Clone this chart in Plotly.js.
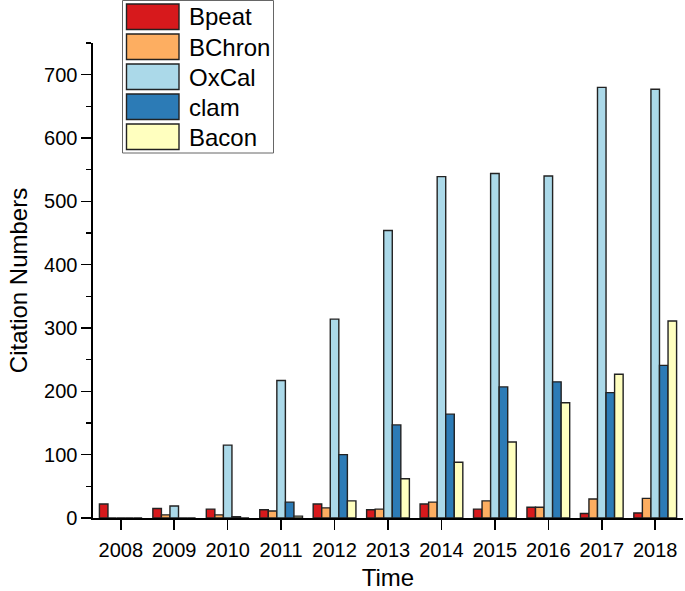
<!DOCTYPE html>
<html>
<head>
<meta charset="utf-8">
<script src="https://cdn.plot.ly/plotly-3.0.1.min.js"></script>
<style>
html, body { margin: 0; padding: 0; background: #fff; }
#chart { width: 685px; height: 591px; }
</style>
</head>
<body>
<div id="chart"></div>
<script>
// ---- data ----
const years = ["2008","2009","2010","2011","2012","2013","2014","2015","2016","2017","2018"];
const seriesNames = ["Bpeat", "BChron", "OxCal", "clam", "Bacon"];
const bpeat  = [22, 15, 14, 13, 22, 13, 22, 14, 17, 7, 8];
const bchron = [0, 5, 5, 11, 16, 14, 25, 27, 17, 30, 31];
const oxcal  = [0, 19, 115, 217, 314, 454, 539, 544, 540, 680, 677];
const clam   = [0, 0, 2, 25, 100, 147, 164, 207, 215, 198, 241];
const bacon  = [0, 0, 0, 3, 27, 62, 88, 120, 182, 227, 311];
const yTickVals = [0, 100, 200, 300, 400, 500, 600, 700];

// ---- styles ----
const colors = ["#d7191c", "#fdae61", "#abd9e9", "#2c7bb6", "#ffffbf"];
const values = [bpeat, bchron, oxcal, clam, bacon];
const FONT = "Liberation Sans, Arial, Helvetica, sans-serif";

const M = {l: 93, r: 2, t: 43, b: 73};
const W = 685, H = 591;
const PW = W - M.l - M.r, PH = H - M.t - M.b;
const px2x = p => (p - M.l) / PW;
const px2y = p => (H - M.b - p) / PH;

const traces = seriesNames.map((name, i) => ({
  type: "bar",
  name: name,
  x: years,
  y: values[i],
  marker: {color: colors[i], line: {color: "#222", width: 1.4}},
  showlegend: false
}));

// manual legend (large swatches like the original)
const shapes = [];
const annotations = [];
shapes.push({type: "rect", xref: "paper", yref: "paper",
  x0: px2x(122.5), x1: px2x(273.5), y0: px2y(0.5), y1: px2y(153),
  line: {color: "#666", width: 1}, fillcolor: "#fff", layer: "above"});
seriesNames.forEach((name, i) => {
  const top = 4 + i * 30;
  shapes.push({type: "rect", xref: "paper", yref: "paper",
    x0: px2x(126.5), x1: px2x(179), y0: px2y(top), y1: px2y(top + 25.5),
    line: {color: "#222", width: 1.4}, fillcolor: colors[i], layer: "above"});
  annotations.push({xref: "paper", yref: "paper", x: px2x(187), y: px2y(top + 13),
    xanchor: "left", yanchor: "middle", showarrow: false, text: name,
    font: {family: FONT, size: 24, color: "#000"}});
});

const layout = {
  width: W, height: H,
  margin: M,
  paper_bgcolor: "#fff", plot_bgcolor: "#fff",
  barmode: "group", bargap: 0.2, bargroupgap: 0,
  font: {family: FONT, color: "#000"},
  xaxis: {
    type: "category",
    range: [-0.52, 10.52],
    showline: true, linecolor: "#000", linewidth: 1.6,
    ticks: "outside", ticklen: 10, tickwidth: 1.6, tickcolor: "#000",
    tickfont: {family: FONT, size: 20, color: "#000"},
    ticklabelstandoff: 3,
    showgrid: false, zeroline: false,
    title: {text: "Time", font: {family: FONT, size: 24, color: "#000"}, standoff: 13}
  },
  yaxis: {
    range: [0, 750],
    tickvals: yTickVals,
    showline: true, linecolor: "#000", linewidth: 1.6,
    ticks: "outside", ticklen: 10, tickwidth: 1.6, tickcolor: "#000",
    tickfont: {family: FONT, size: 20, color: "#000"},
    minor: {dtick: 50, ticks: "outside", ticklen: 5, tickwidth: 1.6, tickcolor: "#000", showgrid: false},
    showgrid: false, zeroline: false,
    title: {text: "Citation Numbers", font: {family: FONT, size: 24, color: "#000"}, standoff: 9}
  },
  shapes: shapes,
  annotations: annotations
};

Plotly.newPlot("chart", traces, layout, {displayModeBar: false, staticPlot: true});
</script>
</body>
</html>
